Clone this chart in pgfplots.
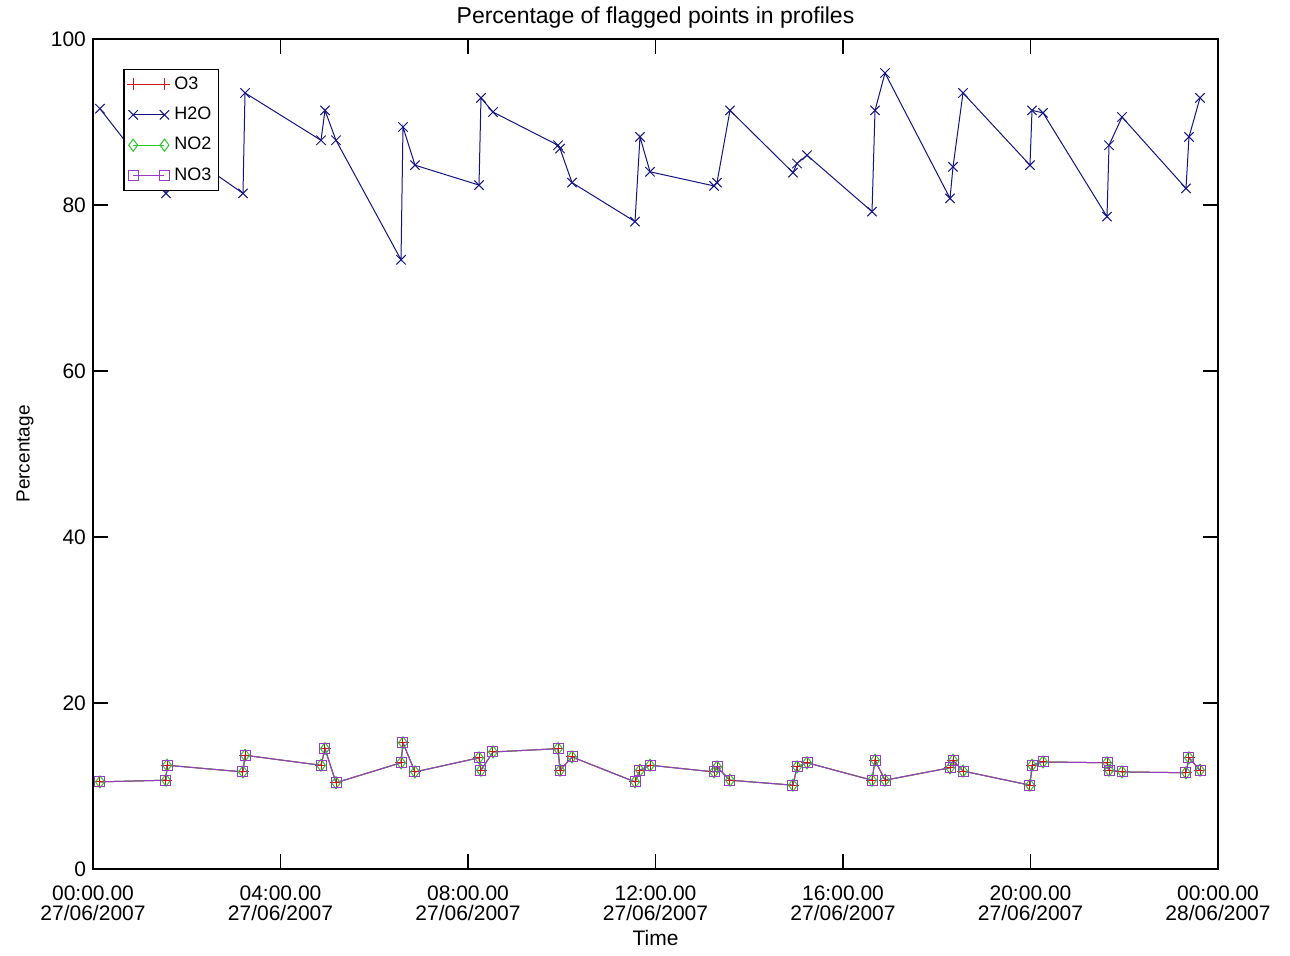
\documentclass[border=0pt]{standalone}
\usepackage{fontspec}
\setmainfont{Liberation Sans}
\usepackage{pgfplots}
\usepackage{pgfplotstable}
\pgfplotsset{compat=1.18}

\definecolor{cH}{RGB}{20,20,130}
\definecolor{cO}{RGB}{210,20,20}
\definecolor{cN}{RGB}{40,200,40}
\definecolor{cP}{RGB}{150,60,200}

% hour of day, percentages
\pgfplotstableread{
h      o3    h2o   no2   no3
0.149  10.5  91.6  10.5  10.5
1.557  10.7  81.4  10.7  10.7
1.579  12.5  87.8  12.5  12.5
3.200  11.7  81.4  11.7  11.7
3.243  13.7  93.5  13.7  13.7
4.864  12.5  87.8  12.5  12.5
4.949  14.5  91.4  14.5  14.5
5.184  10.4  87.8  10.4  10.4
6.571  12.8  73.4  12.8  12.8
6.613  15.2  89.4  15.2  15.2
6.869  11.7  84.8  11.7  11.7
8.235  13.4  82.4  13.4  13.4
8.277  11.9  92.9  11.9  11.9
8.533  14.1  91.2  14.1  14.1
9.920  14.5  87.2  14.5  14.5
9.963  11.9  86.8  11.9  11.9
10.219 13.5  82.7  13.5  13.5
11.563 10.5  78.0  10.5  10.5
11.669 11.9  88.2  11.9  11.9
11.883 12.5  84.0  12.5  12.5
13.248 11.7  82.3  11.7  11.7
13.312 12.3  82.7  12.3  12.3
13.589 10.7  91.4  10.7  10.7
14.933 10.1  83.9  10.1  10.1
15.019 12.3  85.0  12.3  12.3
15.232 12.8  86.0  12.8  12.8
16.619 10.7  79.2  10.7  10.7
16.683 13.1  91.4  13.1  13.1
16.896 10.7  95.9  10.7  10.7
18.283 12.2  80.8  12.2  12.2
18.347 13.1  84.6  13.1  13.1
18.560 11.8  93.5  11.8  11.8
19.989 10.1  84.8  10.1  10.1
20.032 12.5  91.4  12.5  12.5
20.267 12.9  91.1  12.9  12.9
21.632 12.8  78.6  12.8  12.8
21.675 11.9  87.2  11.9  11.9
21.952 11.7  90.6  11.7  11.7
23.317 11.6  82.0  11.6  11.6
23.381 13.4  88.2  13.4  13.4
23.616 11.9  92.9  11.9  11.9
}\flagged

\begin{document}
\begin{tikzpicture}
\begin{axis}[
  scale only axis,
  width=562.5pt, height=415pt,
  xmin=0, xmax=24, ymin=0, ymax=100,
  axis line style={line width=0.9pt},
  tick align=inside,
  major tick length=7.5pt,
  tick style={line width=0.9pt, black},
  xtick={0,4,8,12,16,20,24},
  xticklabels={00:00.00\\27/06/2007, 04:00.00\\27/06/2007, 08:00.00\\27/06/2007,
    12:00.00\\27/06/2007, 16:00.00\\27/06/2007, 20:00.00\\27/06/2007, 00:00.00\\28/06/2007},
  x tick label style={align=center, yshift=-5pt, font=\fontsize{10.5}{10}\selectfont},
  ytick={0,20,40,60,80,100},
  y tick label style={font=\fontsize{10.5}{12}\selectfont},
  /pgf/number format/assume math mode=true,
  title={Percentage of flagged points in profiles},
  every axis title shift=0pt,
  title style={at={(axis description cs:0.5,1.0253)}, anchor=center, font=\fontsize{11.5}{13}\selectfont},
  xlabel={Time},
  xlabel style={at={(axis description cs:0.5,-0.083)}, anchor=center, font=\fontsize{10.5}{12}\selectfont},
  ylabel={Percentage},
  ylabel style={at={(axis description cs:-0.0604,0.5)}, anchor=center, font=\fontsize{9.5}{11}\selectfont},
  legend style={at={(axis description cs:0.027,0.964)}, anchor=north west,
    draw=black, line width=0.8pt, font=\fontsize{9}{11}\selectfont,
    inner sep=1.5pt, row sep=3.4pt, cells={anchor=west}},
  legend image code/.code={\draw[mark repeat=1,mark phase=1,#1] plot coordinates {(0cm,0cm) (0.55cm,0cm)};},
  every axis plot/.append style={line width=0.5pt},
]
\addplot[cO, mark=+, mark size=3pt] table[x=h, y=o3] {\flagged};
\addlegendentry{O3}
\addplot[cH, mark=x, mark size=3.3pt] table[x=h, y=h2o] {\flagged};
\addlegendentry{H2O}
\addplot[cN, mark=diamond, mark size=3pt] table[x=h, y=no2] {\flagged};
\addlegendentry{NO2}
\addplot[cP, mark=square, mark size=2.5pt] table[x=h, y=no3] {\flagged};
\addlegendentry{NO3}
\end{axis}
\pgfresetboundingbox
\path ([xshift=-46.5pt,yshift=-43pt]current axis.south west) rectangle ([xshift=36pt,yshift=19.5pt]current axis.north east);
\end{tikzpicture}
\end{document}
